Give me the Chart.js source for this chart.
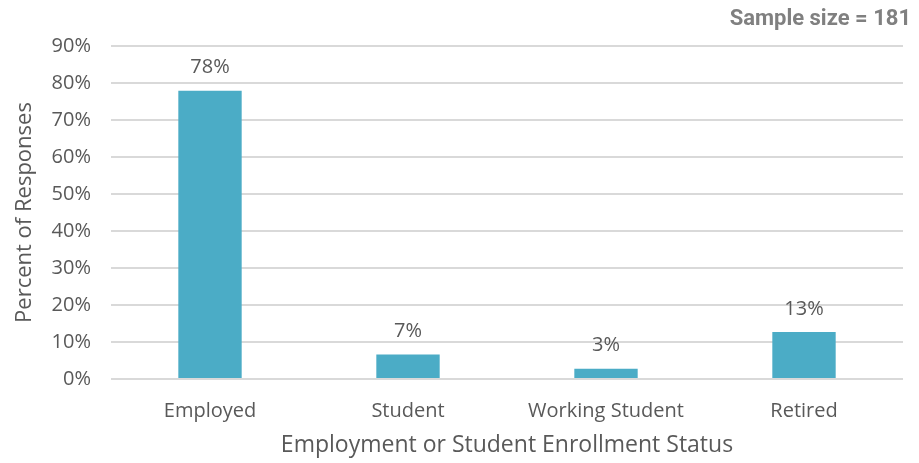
<!DOCTYPE html>
<html>
<head>
<meta charset="utf-8">
<script src="https://cdn.jsdelivr.net/npm/chart.js@4"></script>
<style>
  html, body { margin: 0; padding: 0; background: #fff; }
  #wrap { width: 919px; height: 463px; position: relative; }
</style>
</head>
<body>
<div id="wrap"><canvas id="js--chart"></canvas></div>
<script>
const categories = ["Employed", "Student", "Working Student", "Retired"];
const percentValues = [77.9, 6.6, 2.8, 12.7];
const valueLabels = ["78%", "7%", "3%", "13%"];
const sampleSize = 181;

const textColor = "#595959";

// labels above the bars + sample size note
const labelPlugin = {
    id: "labels",
    afterDatasetsDraw(chart) {
        const ctx = chart.ctx;
        const meta = chart.getDatasetMeta(0);
        ctx.save();
        ctx.font = "20px 'Open Sans'";
        ctx.fillStyle = textColor;
        ctx.textAlign = "center";
        ctx.textBaseline = "middle";
        meta.data.forEach((bar, i) => {
            ctx.fillText(valueLabels[i], bar.x, bar.y - 23);
        });
        ctx.font = "bold 22px Roboto";
        ctx.fillStyle = "#808080";
        ctx.textAlign = "right";
        ctx.fillText("Sample size = " + sampleSize, 911, 19);
        ctx.restore();
    }
};

const chart1 = new Chart(document.getElementById("js--chart"), {
    type: "bar",
    data: {
        labels: categories,
        datasets: [{
            data: percentValues,
            backgroundColor: "#4BACC6",
            barPercentage: 0.32,
            categoryPercentage: 1
        }]
    },
    options: {
        responsive: true,
        maintainAspectRatio: false,
        animation: false,
        layout: { padding: { top: 46, right: 16, left: 0, bottom: 0 } },
        plugins: { legend: { display: false }, tooltip: { enabled: false } },
        scales: {
            x: {
                grid: { display: false },
                border: { display: false },
                ticks: { color: textColor, font: { family: "Open Sans", size: 20 }, padding: 12 },
                title: {
                    display: true,
                    text: "Employment or Student Enrollment Status",
                    color: textColor,
                    font: { family: "Open Sans", size: 23 },
                    padding: { top: 4 }
                },
                afterFit(scale) { scale.height = 84; }
            },
            y: {
                min: 0,
                max: 90,
                ticks: {
                    stepSize: 10,
                    color: textColor,
                    font: { family: "Open Sans", size: 20 },
                    padding: 20,
                    callback: v => v + "%"
                },
                grid: { color: "#d9d9d9", lineWidth: 2, drawTicks: false },
                border: { display: false },
                title: {
                    display: true,
                    text: "Percent of Responses",
                    color: textColor,
                    font: { family: "Open Sans", size: 22 },
                    padding: { top: 12, bottom: 0 }
                },
                afterFit(scale) { scale.width = 111; }
            }
        }
    },
    plugins: [labelPlugin]
});
</script>
</body>
</html>
